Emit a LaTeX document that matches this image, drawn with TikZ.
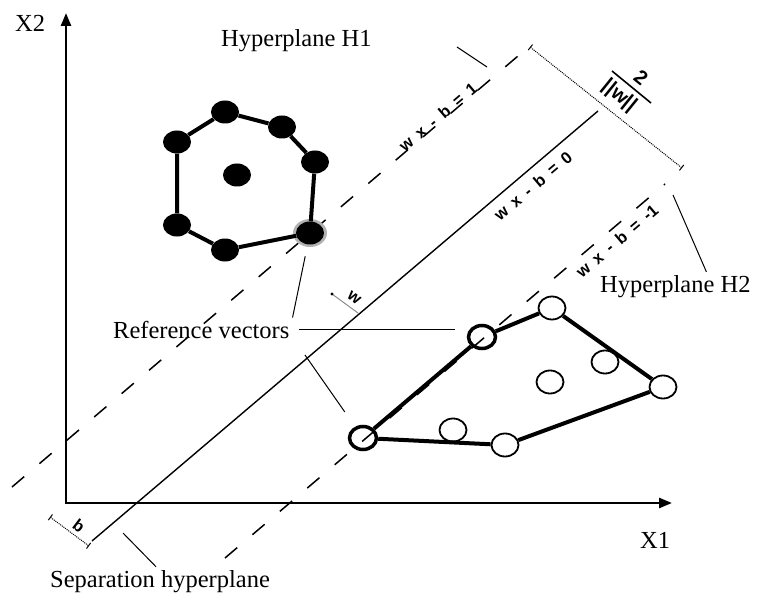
\documentclass[tikz,border=0pt]{standalone}
\usepackage{fontspec}
\setmainfont{Liberation Serif}
\setsansfont{Liberation Sans}
\usetikzlibrary{shapes.geometric, arrows.meta}

\newcommand{\lblfont}{\fontsize{24.5}{28}\selectfont}
\newcommand{\eqfont}{\sffamily\bfseries\fontsize{16.5}{19}\selectfont}
\newcommand{\fracfont}{\sffamily\bfseries\fontsize{20}{22}\selectfont}
\newcommand{\eqsp}{\hspace{8pt}}

\begin{document}
\begin{tikzpicture}[
			x=1pt, y=-1pt,
			axis/.style={line width=2.5pt, line join=miter, {Triangle[length=13pt,width=10pt]}-{Triangle[length=13pt,width=10pt]}},
			plane/.style={line width=1.4pt},
			margin/.style={line width=1.5pt, dash pattern=on 16pt off 20pt},
			leader/.style={line width=1pt},
			dimline/.style={line width=1pt, densely dotted, {Bar[width=7pt]}-{Bar[width=7pt]}},
			lbl/.style={font=\lblfont, anchor=base west, inner sep=3pt},
			eqn/.style={font=\eqfont, inner sep=1pt},
			fracpart/.style={font=\fracfont, inner sep=0pt, rotate=-39},
			posdot/.style={ellipse, fill=black, minimum width=28pt, minimum height=23pt, inner sep=0pt},
			negdot/.style={ellipse, draw, line width=1.8pt, minimum width=27pt, minimum height=23pt, inner sep=0pt},
			refdot/.style={negdot, line width=3.5pt},
			halo/.style={ellipse, fill=black!30, minimum width=34pt, minimum height=28pt},
			edge/.style={line width=4pt}
			]
			
			\useasboundingbox (0,0) rectangle (760,596);
			
			% axes
			\coordinate (O) at (66,503);
			\coordinate (xend) at (672,503);
			\coordinate (yend) at (66,13);
			\draw [axis] (yend) -- (O) -- (xend);
			\node (x2) [lbl] at (12,32) {X2};
			\node (x1) [lbl] at (637,548) {X1};
			
			% hyperplanes
			\coordinate (s0) at (92,541);
			\coordinate (s1) at (598,111);
			\coordinate (h1a) at (12,487);
			\coordinate (h1b) at (518,56);
			\coordinate (h2a) at (225,558);
			\coordinate (h2b) at (665,184);
			\draw [plane] (s0) -- (s1);
			\draw [margin] (h1a) -- (h1b);
			\draw [margin] (h2a) -- (h2b);
			
			\node (eq1) [eqn, rotate=40.4] at (438,117) {w\eqsp x\eqsp -\eqsp b\eqsp =\eqsp 1};
			\node (eq0) [eqn, rotate=40.4] at (533,186) {w\eqsp x\eqsp -\eqsp b\eqsp =\eqsp 0};
			\node (eqm) [eqn, rotate=40.4] at (617,241) {w\eqsp x\eqsp -\eqsp b\eqsp =\eqsp -1};
			
			% margin width
			\coordinate (m0) at (530,47);
			\coordinate (m1) at (682,168);
			\draw [dimline] (m0) -- (m1);
			\coordinate (fb0) at (612,71);
			\coordinate (fb1) at (651,103);
			\draw [line width=1.6pt] (fb0) -- (fb1);
			\node (fnum) [fracpart] at (641,78) {2};
			\node (fden) [fracpart] at (619,96) {||w||};
			
			% offset b
			\coordinate (b0) at (50,517);
			\coordinate (b1) at (89,546);
			\draw [dimline] (b0) -- (b1);
			\node (blbl) [eqn, rotate=-37] at (79,526) {b};
			
			% normal vector
			\coordinate (wt) at (332,294);
			\coordinate (wh) at (358,313);
			\draw [leader, black!45] (wt) -- (wh);
			\fill (wt) circle (1.6pt);
			\node (wlbl) [eqn, rotate=-37] at (354,298) {w};
			
			% class H1
			\node (r1) [halo] at (310,233) {};
			\node (p1) [posdot] at (177,142) {};
			\node (p2) [posdot] at (225,112) {};
			\node (p3) [posdot] at (282,127) {};
			\node (p4) [posdot] at (315,162) {};
			\node (p5) [posdot] at (237,175) {};
			\node (p6) [posdot] at (225,250) {};
			\node (p7) [posdot] at (177,225) {};
			\node (p8) [posdot] at (310,233) {};
			\draw [edge] (p1) -- (p2) -- (p3) -- (p4) -- (p8) -- (p6) -- (p7) -- (p1);
			
			% class H2
			\node (n1) [refdot] at (363,438) {};
			\node (n2) [refdot] at (482,337) {};
			\node (n3) [negdot] at (552,308) {};
			\node (n4) [negdot] at (663,387) {};
			\node (n5) [negdot] at (505,445) {};
			\node (n6) [negdot] at (605,362) {};
			\node (n7) [negdot] at (550,382) {};
			\node (n8) [negdot] at (453,430) {};
			\draw [edge] (n1) -- (n2) -- (n3) -- (n4) -- (n5) -- (n1);
			
			% labels and leaders
			\node (h1lbl) [lbl] at (218,47) {Hyperplane H1};
			\coordinate (t0) at (457,47);
			\coordinate (t1) at (487,67);
			\draw [leader] (t0) -- (t1);
			
			\node (h2lbl) [lbl] at (597,292) {Hyperplane H2};
			\coordinate (h2p) at (673,195);
			\draw [leader] (h2p) -- ([xshift=31pt]h2lbl.north);
			
			\node (reflbl) [lbl] at (110,338) {Reference vectors};
			\draw [leader, shorten >=12pt] (reflbl.north east) -- (p8);
			\draw [leader] ([xshift=6pt]reflbl.east) -- ([xshift=-12pt]n2.west |- reflbl.east);
			
			\coordinate (mk) at (305,355);
			\draw [leader, shorten <=18pt] (n1) -- (mk);
			
			\node (seplbl) [lbl] at (47,587) {Separation hyperplane};
			\coordinate (sp) at (123,533);
			\draw [leader] (sp) -- ([xshift=-4pt]seplbl.north);
			
		\end{tikzpicture}
\end{document}
